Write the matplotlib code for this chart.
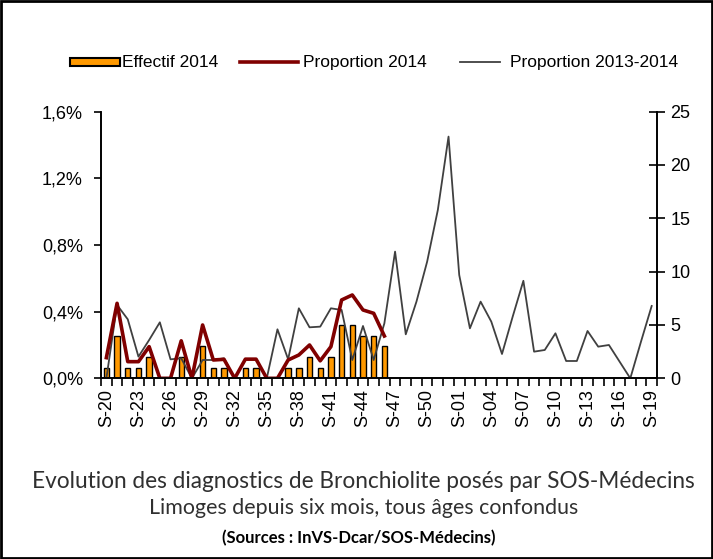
import matplotlib
matplotlib.use("Agg")
import matplotlib.pyplot as plt
from matplotlib.patches import Rectangle
from matplotlib.lines import Line2D
from matplotlib.ticker import FuncFormatter

# semaines S-20 (2014) ... S-19 (2015)
weeks = list(range(20, 53)) + list(range(1, 20))
week_labels = ["S-%02d" % w for w in weeks]

# effectif 2014 (axe droit)
effectif_2014 = [1, 4, 1, 1, 2, 0, 0, 2, 0, 3, 1, 1, 0, 1, 1, 0, 0, 1, 1, 2,
                 1, 2, 5, 5, 4, 4, 3]

# proportion 2014 (%)
proportion_2014 = [0.124, 0.45, 0.10, 0.10, 0.19, 0.0, 0.0, 0.225, 0.0, 0.32,
                   0.11, 0.114, 0.0, 0.115, 0.115, 0.0, 0.0, 0.11, 0.14, 0.20,
                   0.105, 0.19, 0.47, 0.50, 0.41, 0.39, 0.254]

# proportion 2013-2014 (%)
proportion_2013_2014 = [0.0, 0.44, 0.354, 0.13, 0.23, 0.336, 0.114, 0.12, 0.0, 0.11,
                        0.11, 0.12, 0.0, 0.0, 0.0, 0.0, 0.294, 0.114, 0.42, 0.306,
                        0.31, 0.42, 0.41, 0.11, 0.314, 0.11, 0.33, 0.76, 0.264, 0.46,
                        0.70, 1.01, 1.45, 0.62, 0.30, 0.46, 0.34, 0.146, 0.37, 0.585,
                        0.16, 0.17, 0.27, 0.104, 0.104, 0.284, 0.19, 0.20, 0.10, 0.0,
                        0.22, 0.434]

ORANGE = "#FF9900"
RED = "#800000"
GREY = "#404040"

W, H = 713, 559
fig = plt.figure(figsize=(W / 100, H / 100), dpi=100)
ax = fig.add_axes([0.1417, 0.3232, 0.9215 - 0.1417, 0.8004 - 0.3232])
ax2 = ax.twinx()

x_all = list(range(len(weeks)))

# barres sur l'axe droit
ax2.bar(range(len(effectif_2014)), effectif_2014, width=0.5, color=ORANGE,
        edgecolor="black", linewidth=1.0)
ax2.set_ylim(0, 25)
ax2.set_yticks([0, 5, 10, 15, 20, 25])

# courbes sur l'axe gauche, au-dessus des barres
ax.set_zorder(ax2.get_zorder() + 1)
ax.patch.set_visible(False)
ax.plot(x_all, proportion_2013_2014, color=GREY, linewidth=1.3)
ax.plot(range(len(proportion_2014)), proportion_2014, color=RED, linewidth=2.6)
ax.set_ylim(0, 1.6)
ax.set_yticks([0, 0.4, 0.8, 1.2, 1.6])
ax.yaxis.set_major_formatter(FuncFormatter(lambda v, p: ("%.1f%%" % v).replace(".", ",")))
ax.set_xlim(-0.5, len(weeks) - 0.5)

ax.set_xticks(x_all[::3])
ax.set_xticklabels(week_labels[::3], rotation=90)
ax.set_xticks([i - 0.5 for i in range(len(weeks) + 1)], minor=True)
ax.tick_params(axis="x", which="major", length=0, pad=8)
ax.tick_params(axis="x", which="minor", length=6, width=1.2, direction="out")
ax.tick_params(axis="y", length=5, width=1.2, direction="out", pad=8)
ax2.tick_params(axis="y", length=11, width=1.2, direction="inout", pad=4)

for a in (ax, ax2):
    a.spines["top"].set_visible(False)
    for s in ("left", "right", "bottom"):
        a.spines[s].set_linewidth(1.2)
    a.tick_params(labelsize=13)

for lab in ax.get_xticklabels() + ax.get_yticklabels() + ax2.get_yticklabels():
    lab.set_fontfamily("Liberation Sans")

# legende en haut (pixels de la figure)
def px(x, y):
    return x / W, 1 - y / H

ly = 62
x0, y0 = px(70, ly + 4)
x1, y1 = px(120, ly - 4)
fig.add_artist(Rectangle((x0, y0), x1 - x0, y1 - y0, transform=fig.transFigure,
                         facecolor=ORANGE, edgecolor="black", linewidth=1.5))
fig.add_artist(Line2D([px(240, 0)[0], px(298, 0)[0]], [px(0, ly)[1]] * 2,
                      transform=fig.transFigure, color=RED, linewidth=2.6))
fig.add_artist(Line2D([px(460, 0)[0], px(500, 0)[0]], [px(0, ly)[1]] * 2,
                      transform=fig.transFigure, color=GREY, linewidth=1.3))
for tx, txt in [(122, "Effectif 2014"), (303, "Proportion 2014"), (510, "Proportion 2013-2014")]:
    fig.text(*px(tx, ly), txt, ha="left", va="center", fontsize=12.5,
             family="Liberation Sans")

fig.text(0.51, 0.138, "Evolution des diagnostics de Bronchiolite posés par SOS-Médecins",
         ha="center", va="center", fontsize=16.3, family="Lato", color="#303030")
fig.text(0.51, 0.091, "Limoges depuis six mois, tous âges confondus",
         ha="center", va="center", fontsize=15.4, family="Lato", color="#303030")
fig.text(0.503, 0.038, "(Sources : InVS-Dcar/SOS-Médecins)",
         ha="center", va="center", fontsize=12, family="Lato", fontweight="bold")

fig.patches.append(Rectangle((0.002, 0.002), 0.996, 0.996, transform=fig.transFigure,
                             fill=False, edgecolor="black", linewidth=2))

fig.savefig("out.png", dpi=100)
